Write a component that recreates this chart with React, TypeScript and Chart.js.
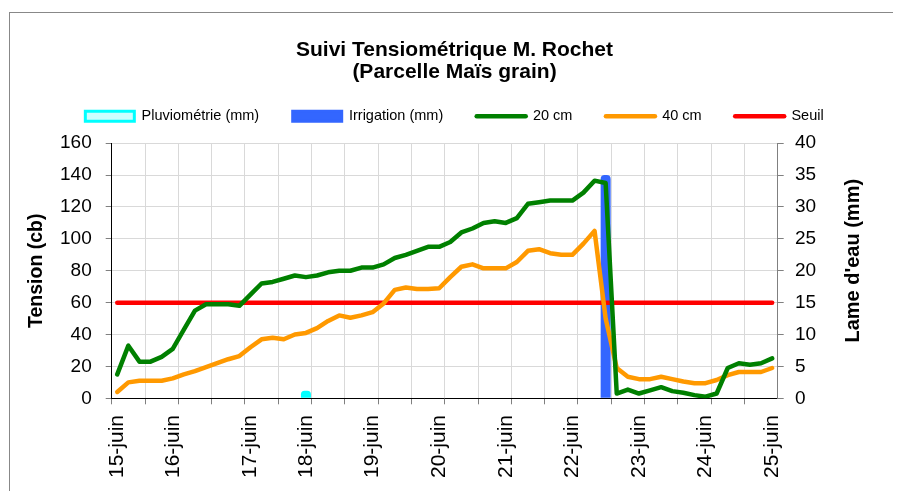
import React, { useEffect, useRef } from 'react';
import { Chart, registerables } from 'chart.js';

Chart.register(...registerables);

// ---- data ----
const dayLabels = ['15-juin', '16-juin', '17-juin', '18-juin', '19-juin', '20-juin', '21-juin', '22-juin', '23-juin', '24-juin', '25-juin'];
const dayLabelIndex = [0, 5, 12, 17, 23, 29, 35, 41, 47, 53, 59];

const tension20 = [
  15, 33, 23, 23, 26, 31, 43, 55, 59, 59,
  59, 58, 65, 72, 73, 75, 77, 76, 77, 79,
  80, 80, 82, 82, 84, 88, 90, 92.5, 95, 95,
  98, 104, 106.5, 110, 111, 110, 113, 122, 123, 124,
  124, 124, 129, 136.5, 135, 3, 5.5, 3, 5, 7,
  4.5, 3.5, 2, 1, 3, 19, 22, 21, 22, 25,
];

const tension40 = [
  4, 10, 11, 11, 11, 12.5, 15, 17, 19.5, 22,
  24.5, 26.5, 32, 37, 38, 37, 40, 41, 44, 48.5,
  52, 50.5, 52, 54, 59.5, 68, 69.5, 68.5, 68.5, 69,
  76, 82.5, 84, 81.5, 81.5, 81.5, 85.5, 92.5, 93.5, 91,
  90, 90, 97, 105, 50, 19, 13.5, 12, 12, 13.5,
  12, 10.5, 9.5, 9.5, 11.5, 14.5, 16.5, 16.5, 16.5, 19,
];

const N = null;
const pluviometrie = [
  N, N, N, N, N, N, N, N, N, N,
  N, N, N, N, N, N, N, 1.2, N, N,
  N, N, N, N, N, N, N, N, N, N,
  N, N, N, N, N, N, N, N, N, N,
  N, N, N, N, N, N, N, N, N, N,
  N, N, N, N, N, N, N, N, N, N,
];

const irrigation = [
  N, N, N, N, N, N, N, N, N, N,
  N, N, N, N, N, N, N, N, N, N,
  N, N, N, N, N, N, N, N, N, N,
  N, N, N, N, N, N, N, N, N, N,
  N, N, N, N, 35, N, N, N, N, N,
  N, N, N, N, N, N, N, N, N, N,
];

const seuilValue = 60;

const categories = tension20.map((_, i) => {
  const k = dayLabelIndex.indexOf(i);
  return k >= 0 ? dayLabels[k] : '';
});

const FONT = "'Liberation Sans', Arial, sans-serif";

const rightTitlePlugin = {
  id: 'rightTitle',
  afterDraw(chart: any) {
    const ctx = chart.ctx;
    const s = chart.scales.y1;
    const area = chart.chartArea;
    ctx.save();
    ctx.font = `bold 20px ${FONT}`;
    ctx.fillStyle = '#000';
    ctx.textAlign = 'center';
    ctx.textBaseline = 'middle';
    ctx.translate(s.right - 47.2, (area.top + area.bottom) / 2 - 10);
    ctx.rotate(-Math.PI / 2);
    ctx.fillText("Lame d'eau (mm)", 0, 0);
    ctx.restore();
  },
};

export default function App() {
  const ref = useRef<HTMLCanvasElement | null>(null);

  useEffect(() => {
    if (!ref.current) return;
    Chart.defaults.font.family = FONT;
    Chart.defaults.color = '#000';
    const chart = new Chart(ref.current, {
      type: 'line',
      data: {
        labels: categories,
        datasets: [
          {
            type: 'bar',
            label: 'Pluviométrie (mm)',
            data: pluviometrie,
            yAxisID: 'y1',
            backgroundColor: '#00ffff',
            borderColor: '#00ffff',
            borderWidth: 0,
            borderRadius: 4,
            borderSkipped: 'start',
            grouped: false,
            barPercentage: 0.9,
            categoryPercentage: 1,
            order: 1,
          } as any,
          {
            type: 'bar',
            label: 'Irrigation (mm)',
            data: irrigation,
            yAxisID: 'y1',
            backgroundColor: '#3366ff',
            borderColor: '#3366ff',
            borderWidth: 0,
            borderRadius: 4,
            borderSkipped: 'start',
            grouped: false,
            barPercentage: 0.9,
            categoryPercentage: 1,
            order: 1,
          } as any,
          {
            label: '20 cm',
            data: tension20,
            yAxisID: 'y',
            borderColor: '#008000',
            backgroundColor: '#008000',
            borderWidth: 4.5,
            borderCapStyle: 'round',
            borderJoinStyle: 'round',
            pointRadius: 0,
            tension: 0,
            order: 0,
          },
          {
            label: '40 cm',
            data: tension40,
            yAxisID: 'y',
            borderColor: '#ff9900',
            backgroundColor: '#ff9900',
            borderWidth: 4.5,
            borderCapStyle: 'round',
            borderJoinStyle: 'round',
            pointRadius: 0,
            tension: 0,
            order: 0,
          },
          {
            label: 'Seuil',
            data: categories.map(() => seuilValue),
            yAxisID: 'y',
            borderColor: '#ff0000',
            backgroundColor: '#ff0000',
            borderWidth: 4.5,
            borderCapStyle: 'round',
            pointRadius: 0,
            tension: 0,
            order: 0,
          },
        ],
      },
      options: {
        responsive: false,
        animation: false,
        events: [],
        layout: { padding: 0 },
        plugins: {
          tooltip: { enabled: false },
          title: {
            display: true,
            text: ['Suivi Tensiométrique M. Rochet', '(Parcelle Maïs grain)'],
            font: { size: 21, weight: 'bold', lineHeight: 1.05 },
            color: '#000',
            padding: { top: 30.75, bottom: -7.3 },
          },
          subtitle: {
            display: true,
            text: '',
            font: { size: 1, lineHeight: 1 },
            padding: { top: 8.65, bottom: 0 },
            weight: 500,
          } as any,
          legend: {
            display: true,
            position: 'top',
            labels: {
              usePointStyle: true,
              pointStyleWidth: 49,
              boxHeight: 10,
              padding: 33.5,
              color: '#000',
              font: { size: 14.5 },
              sort: (a: any, b: any) => a.datasetIndex - b.datasetIndex,
              generateLabels: (chart: any) => {
                const items = (Chart.defaults.plugins.legend.labels as any).generateLabels(chart);
                items.forEach((it: any) => {
                  it.rotation = 0;
                  if (it.datasetIndex === 0) {
                    it.pointStyle = 'rect';
                    it.fillStyle = '#ccffff';
                    it.strokeStyle = '#00ffff';
                    it.lineWidth = 3;
                  } else if (it.datasetIndex === 1) {
                    it.pointStyle = 'rect';
                    it.fillStyle = '#3366ff';
                    it.strokeStyle = '#3366ff';
                    it.lineWidth = 3;
                  } else {
                    it.pointStyle = 'line';
                    it.lineWidth = 4.5;
                    it.lineCap = 'round';
                  }
                });
                return items;
              },
            },
          },
        },
        scales: {
          x: {
            type: 'category',
            offset: true,
            afterFit: (s: any) => { s.height = 92.7; },
            grid: {
              offset: true,
              color: (c: any) => (c.index % 3 === 0 ? '#d9d9d9' : 'rgba(0,0,0,0)'),
              tickColor: (c: any) => (c.index % 3 === 0 ? '#808080' : 'rgba(0,0,0,0)'),
              tickLength: 6,
              lineWidth: 1,
            },
            border: { color: '#000', width: 1 },
            ticks: {
              autoSkip: false,
              maxRotation: 90,
              minRotation: 90,
              padding: 10.7,
              color: '#000',
              font: { size: 21 },
            },
          },
          y: {
            position: 'left',
            min: 0,
            max: 160,
            afterFit: (s: any) => { s.width = 103.7; },
            ticks: { stepSize: 20, padding: 14, color: '#000', font: { size: 19 } },
            grid: { color: '#d9d9d9', tickColor: '#808080', tickLength: 6 },
            border: { color: '#000', width: 1 },
            title: {
              display: true,
              text: 'Tension (cb)',
              color: '#000',
              font: { size: 19.5, weight: 'bold' },
              padding: { top: 16.6, bottom: 0 },
            },
          },
          y1: {
            position: 'right',
            min: 0,
            max: 40,
            afterFit: (s: any) => { s.width = 123.3; },
            ticks: { stepSize: 5, padding: 11.3, color: '#000', font: { size: 19 } },
            grid: { drawOnChartArea: false, tickColor: '#808080', tickLength: 6 },
            border: { color: '#808080', width: 1 },
          },
        },
      } as any,
      plugins: [rightTitlePlugin],
    });
    return () => chart.destroy();
  }, []);

  return (
    <div style={{ position: 'relative', width: 893, height: 483, overflow: 'hidden' }}>
      <div
        style={{
          position: 'absolute',
          left: 1,
          top: 4,
          width: 1200,
          height: 1200,
          border: '1px solid #888',
          boxSizing: 'border-box',
        }}
      />
      <canvas
        ref={ref}
        width={893}
        height={483}
        style={{ position: 'absolute', left: 0, top: 0, width: 893, height: 483, display: 'block' }}
      />
    </div>
  );
}
